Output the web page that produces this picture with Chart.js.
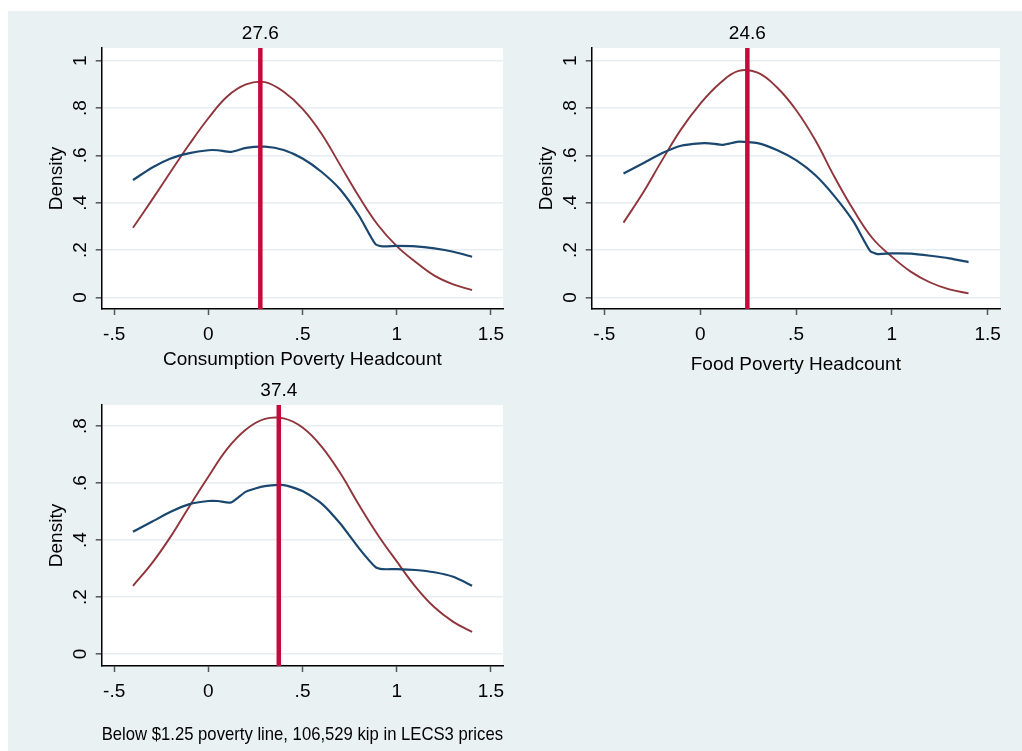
<!DOCTYPE html>
<html>
<head>
<meta charset="utf-8">
<script src="https://cdn.jsdelivr.net/npm/chart.js@4.4.1/dist/chart.umd.min.js"></script>
<style>
    body { margin: 0; background: #ffffff; width: 1022px; height: 751px; overflow: hidden; }
    #fundo { position: absolute; left: 8px; top: 11px; width: 1014px; height: 740px; background: #eaf1f3; }
    canvas { position: absolute; }
</style>
</head>
<body>
<div id="fundo"></div>
<canvas id="graf1" width="490" height="370" style="left:30px; top:11px;"></canvas>
<canvas id="graf2" width="502" height="370" style="left:520px; top:11px;"></canvas>
<canvas id="graf3" width="490" height="370" style="left:30px; top:381px;"></canvas>
<script>
// x grid of each curve
const histX = [-0.4, -0.3, -0.2, -0.1, 0, 0.05, 0.12, 0.2, 0.3, 0.4, 0.5, 0.6, 0.7, 0.8, 0.886, 0.925, 1.0, 1.1, 1.2, 1.3, 1.4];
const kdeX = [-0.4, -0.3, -0.2, -0.1, 0, 0.1, 0.2, 0.3, 0.4, 0.5, 0.6, 0.7, 0.8, 0.9, 1.0, 1.1, 1.2, 1.3, 1.4];

// blue curves (one per panel)
const consumoAzul = [0.496, 0.548, 0.587, 0.610, 0.622, 0.622, 0.615, 0.632, 0.637, 0.623, 0.587, 0.531, 0.456, 0.345, 0.226, 0.216, 0.218, 0.216, 0.207, 0.193, 0.172];
const alimentoAzul = [0.524, 0.566, 0.609, 0.641, 0.651, 0.651, 0.645, 0.658, 0.652, 0.623, 0.580, 0.517, 0.428, 0.320, 0.197, 0.183, 0.186, 0.185, 0.176, 0.165, 0.149];
const linha125Azul = [0.429, 0.464, 0.499, 0.526, 0.537, 0.537, 0.532, 0.570, 0.589, 0.593, 0.572, 0.529, 0.458, 0.371, 0.306, 0.298, 0.298, 0.295, 0.287, 0.271, 0.240];

// red curves
const consumoVermelho = [0.294, 0.411, 0.531, 0.648, 0.757, 0.849, 0.900, 0.910, 0.869, 0.797, 0.693, 0.559, 0.425, 0.306, 0.217, 0.150, 0.092, 0.055, 0.031];
const alimentoVermelho = [0.316, 0.440, 0.578, 0.710, 0.818, 0.903, 0.957, 0.950, 0.888, 0.792, 0.665, 0.510, 0.369, 0.249, 0.172, 0.108, 0.063, 0.034, 0.017];
const linha125Vermelho = [0.239, 0.318, 0.412, 0.519, 0.622, 0.720, 0.788, 0.825, 0.827, 0.795, 0.729, 0.635, 0.523, 0.418, 0.325, 0.236, 0.164, 0.113, 0.078];

// headcount rates (%) marked by the vertical line
const taxasPobreza = [27.6, 24.6, 37.4];

const titulosX = ['Consumption Poverty Headcount', 'Food Poverty Headcount', 'Below $1.25 poverty line, 106,529 kip in LECS3 prices'];

const xTicks = [-0.5, 0, 0.5, 1, 1.5];
const xTickLabels = ['-.5', '0', '.5', '1', '1.5'];
const yTicksTop = [0, 0.2, 0.4, 0.6, 0.8, 1];
const yTicksBottom = [0, 0.2, 0.4, 0.6, 0.8];
const yTickLabels = ['0', '.2', '.4', '.6', '.8', '1'];

const FONTE = '"Liberation Sans", Arial, sans-serif';

function pontos(xs, ys) {
    return xs.map((x, i) => ({ x: x, y: ys[i] }));
}

// white plot region + rotated y labels + rate label
const textosPlugin = {
    id: 'textos',
    beforeDraw(chart) {
        const a = chart.chartArea;
        const ctx = chart.ctx;
        ctx.save();
        ctx.fillStyle = '#ffffff';
        ctx.fillRect(a.left, a.top, a.right - a.left, a.bottom - a.top);
        ctx.restore();
    },
    afterDraw(chart) {
        const a = chart.chartArea;
        const ctx = chart.ctx;
        const cfg = chart.options.plugins.textos;
        const yScale = chart.scales.y;
        const xScale = chart.scales.x;
        ctx.save();
        ctx.fillStyle = '#000000';
        ctx.font = '19px ' + FONTE;
        ctx.textAlign = 'center';
        ctx.textBaseline = 'alphabetic';

        cfg.yTicks.forEach(v => {
            ctx.save();
            ctx.translate(a.left - 16, yScale.getPixelForValue(v));
            ctx.rotate(-Math.PI / 2);
            ctx.fillText(yTickLabels[yTicksTop.indexOf(v)], 0, 0);
            ctx.restore();
        });

        ctx.save();
        ctx.translate(a.left - 39.5, (a.top + a.bottom) / 2);
        ctx.rotate(-Math.PI / 2);
        ctx.fillText('Density', 0, 0);
        ctx.restore();

        ctx.fillText(cfg.taxa.toFixed(1), xScale.getPixelForValue(cfg.taxa / 100), a.top - 9);
        ctx.restore();
    }
};

function criarGrafico(id, azul, vermelho, taxa, tituloX, yTicks, yMin, yMax, padTop, padRight, alturaX, tituloPad, alinhar) {
    const ctx = document.getElementById(id).getContext('2d');
    return new Chart(ctx, {
        type: 'scatter',
        data: {
            datasets: [
                {
                    data: [{ x: taxa / 100, y: yMin }, { x: taxa / 100, y: yMax }],
                    showLine: true,
                    borderColor: '#c70a3c',
                    borderWidth: 4.5,
                    pointRadius: 0
                },
                {
                    data: pontos(histX, azul),
                    showLine: true,
                    borderColor: '#1a476f',
                    borderWidth: 2.2,
                    pointRadius: 0,
                    tension: 0.2
                },
                {
                    data: pontos(kdeX, vermelho),
                    showLine: true,
                    borderColor: '#90353b',
                    borderWidth: 1.9,
                    pointRadius: 0,
                    tension: 0.4
                }
            ]
        },
        options: {
            responsive: false,
            animation: false,
            layout: { padding: { top: padTop, right: padRight, left: 0, bottom: 0 } },
            plugins: {
                legend: { display: false },
                tooltip: { enabled: false },
                textos: { yTicks: yTicks, taxa: taxa }
            },
            scales: {
                x: {
                    type: 'linear',
                    min: -0.566,
                    max: 1.564,
                    afterBuildTicks: axis => { axis.ticks = xTicks.map(v => ({ value: v })); },
                    afterFit: axis => { axis.height = alturaX; },
                    ticks: {
                        callback: (value, index) => xTickLabels[index],
                        color: '#000000',
                        font: { family: FONTE, size: 19 },
                        padding: 8,
                        maxRotation: 0
                    },
                    grid: { drawOnChartArea: false, drawTicks: true, tickLength: 6, tickColor: '#555555', tickWidth: 1.5 },
                    border: { color: '#000000', width: 1.5 },
                    title: {
                        display: true,
                        text: tituloX,
                        align: alinhar,
                        color: '#000000',
                        font: { family: FONTE, size: 19 },
                        padding: { top: 0, bottom: tituloPad }
                    }
                },
                y: {
                    type: 'linear',
                    min: yMin,
                    max: yMax,
                    afterBuildTicks: axis => { axis.ticks = yTicks.map(v => ({ value: v })); },
                    afterFit: axis => { axis.width = 71.7; },
                    ticks: { display: false },
                    grid: { color: '#e6eef1', lineWidth: 1.6, drawTicks: true, tickLength: 6, tickColor: '#555555', tickWidth: 1.5 },
                    border: { color: '#000000', width: 1.5 }
                }
            }
        },
        plugins: [textosPlugin]
    });
}

criarGrafico('graf1', consumoAzul, consumoVermelho, taxasPobreza[0], titulosX[0], yTicksTop, -0.049, 1.054, 37, 17, 72, 9.6, 'center');
criarGrafico('graf2', alimentoAzul, alimentoVermelho, taxasPobreza[1], titulosX[1], yTicksTop, -0.049, 1.054, 37, 22, 72, 4.6, 'center');
criarGrafico('graf3', linha125Azul, linha125Vermelho, taxasPobreza[2], titulosX[2], yTicksBottom, -0.042, 0.874, 24, 17, 85, 4.6, 'start');
</script>
</body>
</html>
